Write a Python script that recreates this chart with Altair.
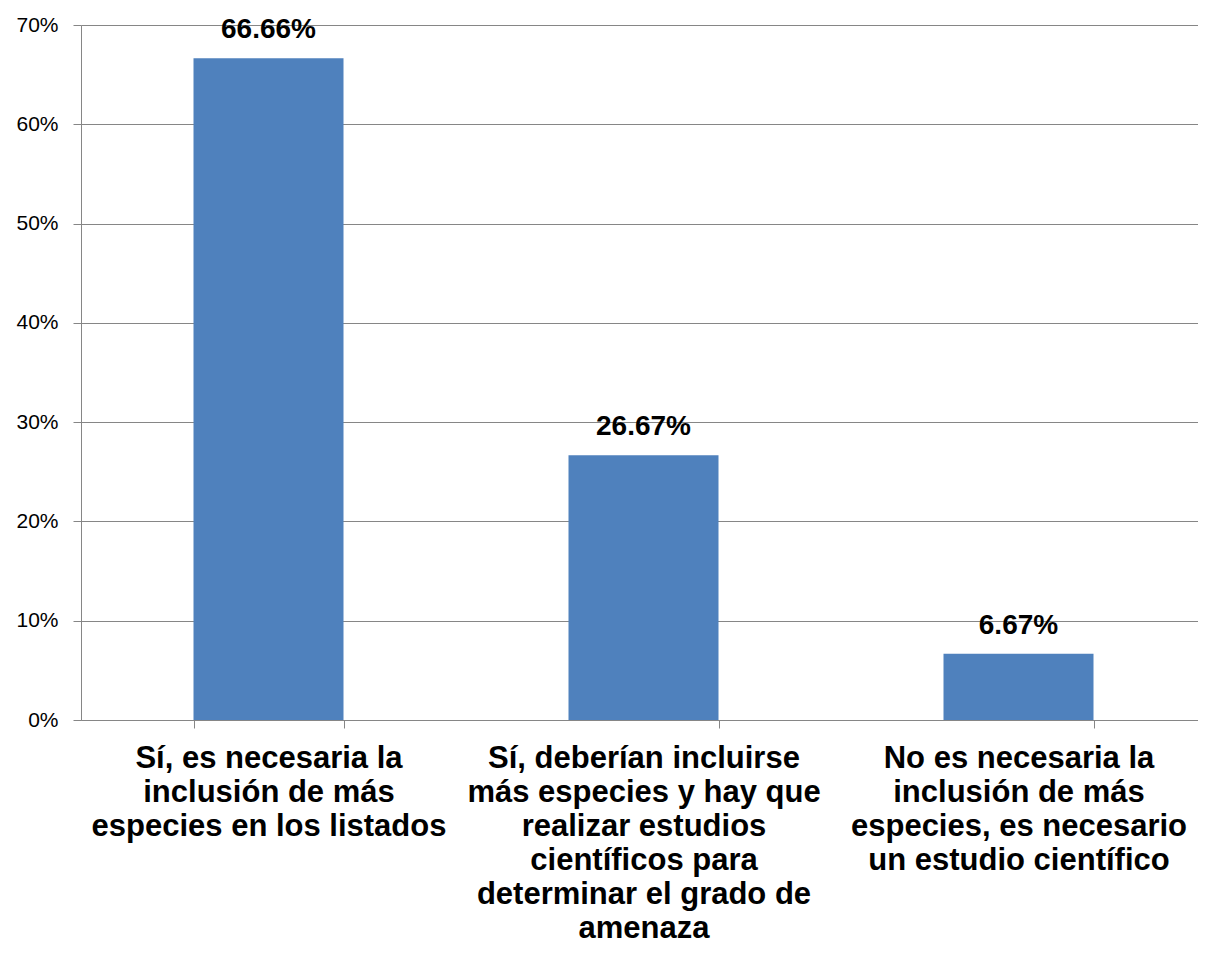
import altair as alt
import pandas as pd

categories = [
    "Sí, es necesaria la|inclusión de más|especies en los listados",
    "Sí, deberían incluirse|más especies y  hay que|realizar estudios|científicos para|determinar el grado de|amenaza",
    "No es necesaria la|inclusión de más|especies, es necesario|un estudio científico",
]
values = [0.6666, 0.2667, 0.0667]
value_labels = ["66.66%", "26.67%", "6.67%"]

df = pd.DataFrame({"cat": categories, "val": values, "lab": value_labels})

FONT = "Liberation Sans"
GRID = "#868686"

x = alt.X(
    "cat:N",
    sort=categories,
    title=None,
    scale=alt.Scale(paddingInner=0.6, paddingOuter=0.3, range=[0, 1125]),
    axis=alt.Axis(
        labelExpr="split(datum.label, '|')",
        labelAngle=0,
        labelFont=FONT,
        labelFontSize=31,
        labelFontWeight="bold",
        labelColor="black",
        labelLineHeight=34,
        labelPadding=15,
        labelLimit=400,
        tickBand="extent",
        tickSize=8,
        tickColor=GRID,
        domainColor=GRID,
        grid=False,
    ),
)

y = alt.Y(
    "val:Q",
    title=None,
    scale=alt.Scale(domain=[0, 0.7], nice=False),
    axis=alt.Axis(
        values=[0, 0.1, 0.2, 0.3, 0.4, 0.5, 0.6, 0.7],
        format=".0%",
        labelFont=FONT,
        labelFontSize=21,
        labelColor="black",
        labelPadding=15,
        tickSize=8,
        tickColor=GRID,
        domainColor=GRID,
        gridColor=GRID,
        grid=True,
    ),
)

bars = alt.Chart(df).mark_bar(color="#4F81BD").encode(x=x, y=y)
text = alt.Chart(df).mark_text(
    font=FONT, fontSize=28, fontWeight="bold", color="black",
    baseline="alphabetic", dy=-20,
).encode(x=x, y=y, text="lab:N")

chart = (bars + text).properties(
    width=1117,
    height=695,
    autosize=alt.AutoSizeParams(type="none"),
    padding={"left": 73, "top": 17, "right": 0, "bottom": 224},
).configure_view(stroke=None).configure(background="white")

chart.save("out.html", embed_options={"renderer": "svg", "actions": False})
